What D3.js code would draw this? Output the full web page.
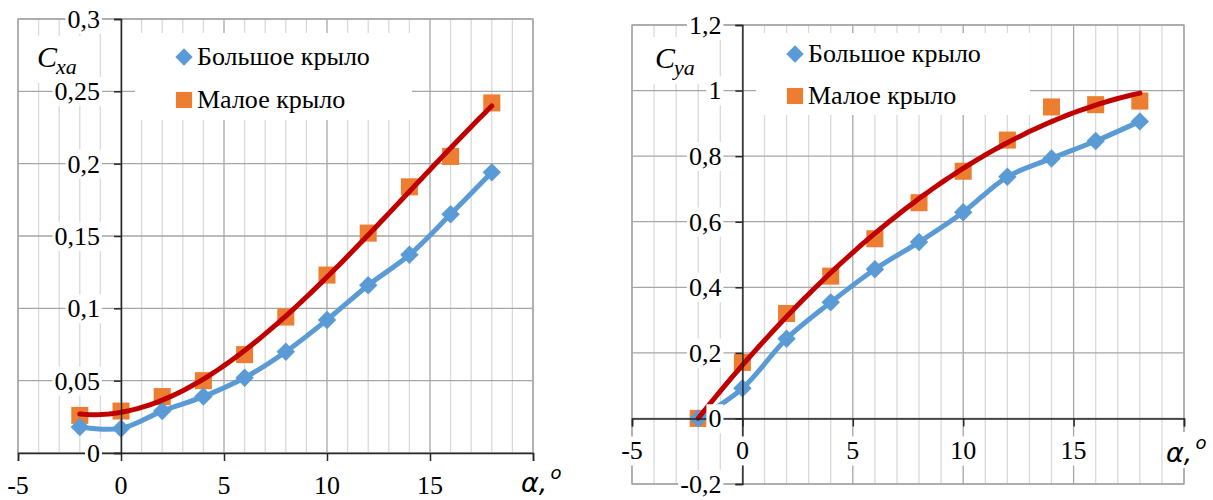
<!DOCTYPE html>
<html>
<head>
<meta charset="utf-8">
<script src="https://cdn.jsdelivr.net/npm/d3@7"></script>
<style>
  body { margin: 0; background: #fff; }
  svg { display: block; }
  .serif { font-family: "Liberation Serif", "Times New Roman", serif; }
</style>
</head>
<body>
<svg width="1213" height="500"></svg>
<script>
// angle of attack, degrees
const ALPHA = [-2, 0, 2, 4, 6, 8, 10, 12, 14, 16, 18];

// drag coefficient Cxa
const CXA_BIG = [0.018, 0.017, 0.029, 0.039, 0.052, 0.070, 0.092, 0.116, 0.137, 0.165, 0.194];
const CXA_SMALL = [0.026, 0.029, 0.039, 0.050, 0.068, 0.094, 0.123, 0.152, 0.184, 0.205, 0.242];

// lift coefficient Cya
const CYA_BIG = [0, 0.092, 0.243, 0.354, 0.455, 0.538, 0.629, 0.737, 0.793, 0.846, 0.906];
const CYA_SMALL = [0, 0.171, 0.320, 0.434, 0.548, 0.658, 0.754, 0.849, 0.950, 0.957, 0.968];

const SERIES_NAMES = ['Большое крыло', 'Малое крыло'];

const X_TICKS = [-5, 0, 5, 10, 15, 20];
const X_LABELS = ['-5', '0', '5', '10', '15', ''];
const CXA_TICKS = [0, 0.05, 0.1, 0.15, 0.2, 0.25, 0.3];
const CXA_LABELS = ['0', '0,05', '0,1', '0,15', '0,2', '0,25', '0,3'];
const CYA_TICKS = [-0.2, 0, 0.2, 0.4, 0.6, 0.8, 1, 1.2];
const CYA_LABELS = ['-0,2', '0', '0,2', '0,4', '0,6', '0,8', '1', '1,2'];

const BLUE = '#5b9bd5';
const ORANGE = '#ed7d31';
const RED = '#c00000';
const GRID_MAJOR = '#a6a6a6';
const GRID_MINOR = '#d9d9d9';
const AXIS = '#262626';

const svg = d3.select('svg');

// least squares polynomial (Excel style trendline)
function polyFit(xs, ys, order) {
    const n = order + 1;
    const A = d3.range(n).map(i => d3.range(n).map(j => d3.sum(xs, x => Math.pow(x, i + j))));
    const b = d3.range(n).map(i => d3.sum(xs, (x, k) => Math.pow(x, i) * ys[k]));
    for (let c = 0; c < n; c++) {
        for (let r = c + 1; r < n; r++) {
            const f = A[r][c] / A[c][c];
            for (let k = c; k < n; k++) A[r][k] -= f * A[c][k];
            b[r] -= f * b[c];
        }
    }
    const coef = new Array(n).fill(0);
    for (let r = n - 1; r >= 0; r--) {
        let s = b[r];
        for (let k = r + 1; k < n; k++) s -= A[r][k] * coef[k];
        coef[r] = s / A[r][r];
    }
    return x => d3.sum(coef, (c, i) => c * Math.pow(x, i));
}

// white box behind a text element
function backBox(textSel, pad) {
    textSel.each(function () {
        const bb = this.getBBox();
        d3.select(this.parentNode).insert('rect', () => this)
            .attr('x', bb.x - pad).attr('y', bb.y)
            .attr('width', bb.width + 2 * pad).attr('height', bb.height)
            .attr('fill', '#fff');
    });
}

function drawPanel(cfg) {
    const x = d3.scaleLinear().domain([-5, 20]).range(cfg.xRange);
    const y = d3.scaleLinear().domain(cfg.yDomain).range(cfg.yRange);
    const g = svg.append('g');

    // vertical grid, every degree
    g.selectAll('.vgrid')
        .data(d3.range(-5, 21))
        .join('line')
        .attr('x1', d => x(d)).attr('x2', d => x(d))
        .attr('y1', cfg.yRange[1]).attr('y2', cfg.yRange[0])
        .attr('stroke', d => d % 5 === 0 ? GRID_MAJOR : GRID_MINOR)
        .attr('stroke-width', 1.3);

    // horizontal grid
    g.selectAll('.hgrid')
        .data(cfg.yTicks)
        .join('line')
        .attr('x1', cfg.xRange[0]).attr('x2', cfg.xRange[1])
        .attr('y1', d => y(d)).attr('y2', d => y(d))
        .attr('stroke', GRID_MAJOR)
        .attr('stroke-width', 1.3);

    // legend box hides the grid
    const lg = cfg.legend;
    g.append('rect')
        .attr('x', lg.x0).attr('y', lg.y0)
        .attr('width', lg.x1 - lg.x0).attr('height', lg.y1 - lg.y0)
        .attr('fill', '#fff');

    // axis title with white box
    const title = g.append('g').attr('class', 'serif').attr('font-style', 'italic');
    title.append('text')
        .attr('x', cfg.title.x).attr('y', cfg.title.y)
        .attr('font-size', 30)
        .text('C');
    title.append('text')
        .attr('x', cfg.title.x + 19).attr('y', cfg.title.y + 7)
        .attr('font-size', 22)
        .text(cfg.title.sub);
    const tb = title.node().getBBox();
    title.insert('rect', 'text')
        .attr('x', tb.x - 6).attr('y', tb.y - 4)
        .attr('width', tb.width + 12).attr('height', tb.height + 8)
        .attr('fill', '#fff');

    const smallPts = ALPHA.map((a, i) => [a, cfg.small[i]]);
    const bigPts = ALPHA.map((a, i) => [a, cfg.big[i]]);

    // orange markers
    g.selectAll('.sq')
        .data(smallPts)
        .join('path')
        .attr('d', d3.symbol(d3.symbolSquare, 290))
        .attr('transform', d => `translate(${x(d[0])},${y(d[1])})`)
        .attr('fill', ORANGE);

    // blue smoothed line with diamonds
    g.append('path')
        .datum(bigPts)
        .attr('d', d3.line().x(d => x(d[0])).y(d => y(d[1])).curve(d3.curveCatmullRom.alpha(0.5)))
        .attr('fill', 'none')
        .attr('stroke', BLUE)
        .attr('stroke-width', 5)
        .attr('stroke-linejoin', 'round');
    g.selectAll('.dm')
        .data(bigPts)
        .join('path')
        .attr('d', d3.symbol(d3.symbolSquare, 170))
        .attr('transform', d => `translate(${x(d[0])},${y(d[1])}) rotate(45)`)
        .attr('fill', BLUE);

    // red polynomial trendline of the small wing
    const fit = polyFit(ALPHA, cfg.small, cfg.order);
    const span = d3.extent(ALPHA);
    g.append('path')
        .datum(d3.range(0, 101).map(i => span[0] + (span[1] - span[0]) * i / 100))
        .attr('d', d3.line().x(d => x(d)).y(d => y(fit(d))))
        .attr('fill', 'none')
        .attr('stroke', RED)
        .attr('stroke-width', 5)
        .attr('stroke-linecap', 'round');

    // plot border
    g.append('rect')
        .attr('x', cfg.xRange[0]).attr('y', cfg.yRange[1])
        .attr('width', cfg.xRange[1] - cfg.xRange[0])
        .attr('height', cfg.yRange[0] - cfg.yRange[1])
        .attr('fill', 'none')
        .attr('stroke', GRID_MAJOR)
        .attr('stroke-width', 1.3);

    // axes: lines and ticks from d3, labels drawn below
    const yAxis = g.append('g')
        .attr('transform', `translate(${x(0)},0)`)
        .call(d3.axisLeft(y).tickValues(cfg.yTicks).tickSize(7).tickFormat(''));
    const xAxis = g.append('g')
        .attr('transform', `translate(0,${y(0)})`)
        .call(d3.axisBottom(x).tickValues(X_TICKS).tickSize(8).tickFormat(''));
    [xAxis, yAxis].forEach(a => {
        a.select('.domain').attr('stroke', AXIS).attr('stroke-width', 1.5);
        a.selectAll('.tick line').attr('stroke', AXIS).attr('stroke-width', 1.5);
    });

    const labels = g.append('g').attr('class', 'serif').attr('font-size', 26);
    const yl = labels.selectAll('.yl')
        .data(cfg.yTicks)
        .join('g');
    yl.append('text')
        .attr('x', x(0) - 21)
        .attr('y', d => y(d))
        .attr('dy', '0.34em')
        .attr('text-anchor', 'end')
        .text((d, i) => cfg.yLabels[i]);
    backBox(yl.select('text'), 2);

    const xl = labels.selectAll('.xl')
        .data(X_TICKS.filter((d, i) => X_LABELS[i] !== ''))
        .join('g');
    xl.append('text')
        .attr('x', d => x(d))
        .attr('y', y(0) + 41)
        .attr('text-anchor', 'middle')
        .text((d, i) => X_LABELS[i]);
    backBox(xl.select('text'), 2);

    // alpha label
    const al = g.append('text')
        .attr('x', cfg.alpha.x).attr('y', cfg.alpha.y)
        .attr('font-family', '"DejaVu Sans", sans-serif')
        .attr('font-style', 'italic')
        .attr('font-size', 27);
    al.append('tspan').text('α,');
    al.append('tspan').attr('dx', 3).attr('dy', -13).attr('font-size', 18).text('o');
    backBox(al, 3);

    // legend
    const items = g.append('g');
    items.append('path')
        .attr('d', d3.symbol(d3.symbolSquare, 150))
        .attr('transform', `translate(${lg.mx},${lg.r1}) rotate(45)`)
        .attr('fill', BLUE);
    items.append('path')
        .attr('d', d3.symbol(d3.symbolSquare, 260))
        .attr('transform', `translate(${lg.mx},${lg.r2})`)
        .attr('fill', ORANGE);
    items.selectAll('.lt')
        .data(SERIES_NAMES)
        .join('text')
        .attr('class', 'serif')
        .attr('x', lg.tx)
        .attr('y', (d, i) => (i === 0 ? lg.r1 : lg.r2) + 8)
        .attr('font-size', 26)
        .text(d => d);
}

drawPanel({
    xRange: [18, 533], yDomain: [0, 0.3], yRange: [453, 19],
    yTicks: CXA_TICKS, yLabels: CXA_LABELS,
    big: CXA_BIG, small: CXA_SMALL, order: 3,
    title: { x: 37, y: 67, sub: 'xa' },
    alpha: { x: 521, y: 492 },
    legend: { x0: 135, y0: 33, x1: 412, y1: 120, mx: 184, tx: 197, r1: 57, r2: 100 }
});

drawPanel({
    xRange: [632, 1184], yDomain: [-0.2, 1.2], yRange: [484, 25],
    yTicks: CYA_TICKS, yLabels: CYA_LABELS,
    big: CYA_BIG, small: CYA_SMALL, order: 2,
    title: { x: 655, y: 68, sub: 'ya' },
    alpha: { x: 1166, y: 462 },
    legend: { x0: 756, y0: 33, x1: 1030, y1: 115, mx: 795, tx: 808, r1: 54, r2: 96 }
});
</script>
</body>
</html>
